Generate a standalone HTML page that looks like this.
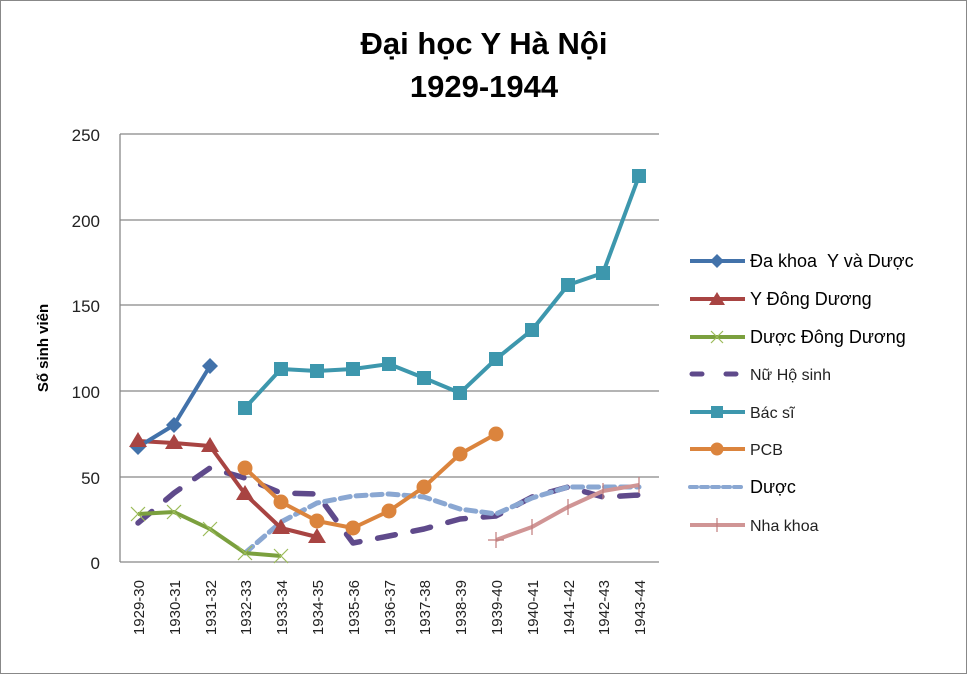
<!DOCTYPE html>
<html><head><meta charset="utf-8"><style>body{margin:0;background:#fff}svg{display:block}</style></head><body>
<svg width="967" height="674" viewBox="0 0 967 674" font-family="Liberation Sans, DejaVu Sans, sans-serif">
<rect x="0.5" y="0.5" width="966" height="673" fill="#fff" stroke="#888"/>
<text x="484" y="54" font-size="31" font-weight="bold" text-anchor="middle">Đại học Y Hà Nội</text>
<text x="484" y="97" font-size="31" font-weight="bold" text-anchor="middle">1929-1944</text>
<g stroke="#888" stroke-width="1.3">
<line x1="120" y1="134" x2="659" y2="134"/><line x1="120" y1="220" x2="659" y2="220"/><line x1="120" y1="305" x2="659" y2="305"/><line x1="120" y1="391" x2="659" y2="391"/><line x1="120" y1="477" x2="659" y2="477"/><line x1="120" y1="562" x2="659" y2="562"/><line x1="120" y1="134" x2="120" y2="562"/>
</g>
<g font-size="17" text-anchor="end" fill="#222">
<text x="100" y="141">250</text><text x="100" y="227">200</text><text x="100" y="312">150</text><text x="100" y="398">100</text><text x="100" y="484">50</text><text x="100" y="569">0</text>
</g>
<text transform="translate(48,348) rotate(-90)" font-size="15" font-weight="bold" text-anchor="middle">Số sinh viên</text>
<g font-size="15" fill="#222" text-anchor="end">
<text transform="translate(144,580) rotate(-90)">1929-30</text>
<text transform="translate(180,580) rotate(-90)">1930-31</text>
<text transform="translate(216,580) rotate(-90)">1931-32</text>
<text transform="translate(251,580) rotate(-90)">1932-33</text>
<text transform="translate(287,580) rotate(-90)">1933-34</text>
<text transform="translate(323,580) rotate(-90)">1934-35</text>
<text transform="translate(359,580) rotate(-90)">1935-36</text>
<text transform="translate(395,580) rotate(-90)">1936-37</text>
<text transform="translate(430,580) rotate(-90)">1937-38</text>
<text transform="translate(466,580) rotate(-90)">1938-39</text>
<text transform="translate(502,580) rotate(-90)">1939-40</text>
<text transform="translate(538,580) rotate(-90)">1940-41</text>
<text transform="translate(574,580) rotate(-90)">1941-42</text>
<text transform="translate(609,580) rotate(-90)">1942-43</text>
<text transform="translate(645,580) rotate(-90)">1943-44</text>
</g>
<g fill="none" stroke-linejoin="round">
<polyline stroke="#5f4a8b" stroke-width="5.5" stroke-linecap="round" stroke-dasharray="18,18" points="138,523 174,493 210,468 245,478 281,493 317,494 353,543 389,536 424,529 460,519 496,516 532,497 568,487 603,497 639,495"/>
<polyline stroke="#8aa7d2" stroke-width="5" stroke-dasharray="10,6" stroke-linecap="round" points="245,553 281,522 317,503 353,496 389,494 424,497 460,509 496,514 532,498 568,487 603,487 639,487"/>
<polyline stroke="#7ba03e" stroke-width="4" points="138,514 174,512 210,529 245,553 281,556"/>
<polyline stroke="#a84442" stroke-width="4" points="138,441 174,443 210,446 245,494 281,528 317,537"/>
<polyline stroke="#4272aa" stroke-width="4" points="138,447 174,425 210,366"/>
<polyline stroke="#3d97ad" stroke-width="4" points="245,408 281,369 317,371 353,369 389,364 424,378 460,393 496,359 532,330 568,285 603,273 639,176"/>
<polyline stroke="#db843d" stroke-width="4" points="245,468 281,502 317,521 353,528 389,511 424,487 460,454 496,434"/>
<polyline stroke="#d09595" stroke-width="4" points="496,540 532,527 568,507 603,491 639,485"/>
</g>
<g fill="#4272aa"><path d="M138,439l8,8-8,8-8-8z"/><path d="M174,417l8,8-8,8-8-8z"/><path d="M210,358l8,8-8,8-8-8z"/></g>
<g fill="#a84442"><path d="M138,432l9,15h-18z"/><path d="M174,434l9,15h-18z"/><path d="M210,437l9,15h-18z"/><path d="M245,485l9,15h-18z"/><path d="M281,519l9,15h-18z"/><path d="M317,528l9,15h-18z"/></g>
<g stroke="#9bbb59" stroke-width="1.2"><path d="M131,507l14,14M131,521l14-14M167,505l14,14M167,519l14-14M203,522l14,14M203,536l14-14M238,546l14,14M238,560l14-14M274,549l14,14M274,563l14-14"/></g>
<g fill="#3d97ad"><rect x="238" y="401" width="14" height="14"/><rect x="274" y="362" width="14" height="14"/><rect x="310" y="364" width="14" height="14"/><rect x="346" y="362" width="14" height="14"/><rect x="382" y="357" width="14" height="14"/><rect x="417" y="371" width="14" height="14"/><rect x="453" y="386" width="14" height="14"/><rect x="489" y="352" width="14" height="14"/><rect x="525" y="323" width="14" height="14"/><rect x="561" y="278" width="14" height="14"/><rect x="596" y="266" width="14" height="14"/><rect x="632" y="169" width="14" height="14"/></g>
<g fill="#db843d"><circle cx="245" cy="468" r="7.5"/><circle cx="281" cy="502" r="7.5"/><circle cx="317" cy="521" r="7.5"/><circle cx="353" cy="528" r="7.5"/><circle cx="389" cy="511" r="7.5"/><circle cx="424" cy="487" r="7.5"/><circle cx="460" cy="454" r="7.5"/><circle cx="496" cy="434" r="7.5"/></g>
<g stroke="#c07c7c" stroke-width="1.2"><path d="M496,532v16M488,540h16M532,519v16M568,499v16M603,483v16M639,477v16"/></g>
<g stroke-width="4">
<line x1="690" y1="261" x2="745" y2="261" stroke="#4272aa"/>
<line x1="690" y1="299" x2="745" y2="299" stroke="#a84442"/>
<line x1="690" y1="337" x2="745" y2="337" stroke="#7ba03e"/>
<line x1="692" y1="374" x2="745" y2="374" stroke="#5f4a8b" stroke-width="5" stroke-dasharray="10,24" stroke-linecap="round"/>
<line x1="690" y1="412" x2="745" y2="412" stroke="#3d97ad"/>
<line x1="690" y1="449" x2="745" y2="449" stroke="#db843d"/>
<line x1="690" y1="487" x2="745" y2="487" stroke="#8aa7d2" stroke-dasharray="7,4" stroke-linecap="round"/>
<line x1="690" y1="525" x2="745" y2="525" stroke="#d09595"/>
</g>
<path d="M717,254l7,7-7,7-7-7z" fill="#4272aa"/>
<path d="M717,292l8,13h-16z" fill="#a84442"/>
<path d="M711,331l12,12M711,343l12-12" stroke="#9bbb59" stroke-width="1.2"/>
<rect x="711" y="406" width="12" height="12" fill="#3d97ad"/>
<circle cx="717" cy="449" r="6.5" fill="#db843d"/>
<path d="M717,518v14" stroke="#c07c7c" stroke-width="1.2"/>
<g font-size="18" fill="#000">
<text x="750" y="267">Đa khoa &#160;Y và Dược</text>
<text x="750" y="305">Y Đông Dương</text>
<text x="750" y="343">Dược Đông Dương</text>
<text x="750" y="493">Dược</text>
</g>
<g font-size="16" fill="#222">
<text x="750" y="380">Nữ Hộ sinh</text>
<text x="750" y="418">Bác sĩ</text>
<text x="750" y="455">PCB</text>
<text x="750" y="531">Nha khoa</text>
</g>
</svg>
</body></html>
